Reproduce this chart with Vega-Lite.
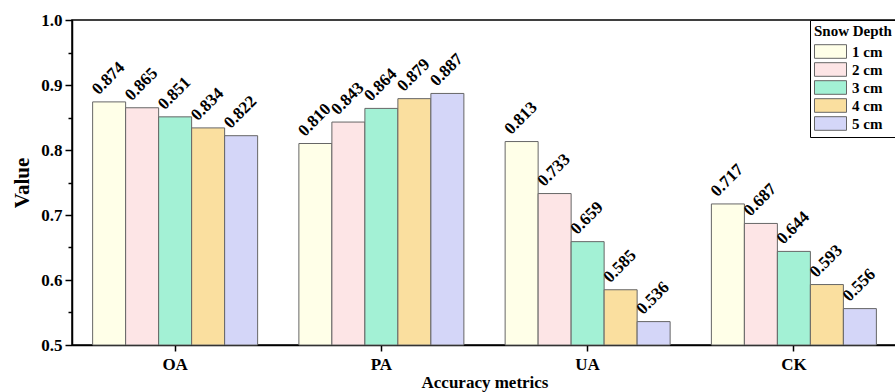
{
  "$schema": "https://vega.github.io/schema/vega-lite/v6.json",
  "autosize": "none",
  "width": 825,
  "height": 325,
  "padding": {"left": 72, "top": 20, "right": 0, "bottom": 47},
  "background": "white",
  "config": {
    "font": "Liberation Serif",
    "view": {"stroke": "#000", "strokeWidth": 1.5},
    "axis": {"grid": false, "domainColor": "#000", "domainWidth": 1.5, "tickColor": "#000", "tickWidth": 1.5, "labelColor": "#000", "titleColor": "#000", "labelFontWeight": "bold", "titleFontWeight": "bold", "labelFont": "Liberation Serif", "titleFont": "Liberation Serif"}
  },
  "data": {"values": [
    {"metric": "OA", "depth": "1 cm", "value": 0.874},
    {"metric": "OA", "depth": "2 cm", "value": 0.865},
    {"metric": "OA", "depth": "3 cm", "value": 0.851},
    {"metric": "OA", "depth": "4 cm", "value": 0.834},
    {"metric": "OA", "depth": "5 cm", "value": 0.822},
    {"metric": "PA", "depth": "1 cm", "value": 0.810},
    {"metric": "PA", "depth": "2 cm", "value": 0.843},
    {"metric": "PA", "depth": "3 cm", "value": 0.864},
    {"metric": "PA", "depth": "4 cm", "value": 0.879},
    {"metric": "PA", "depth": "5 cm", "value": 0.887},
    {"metric": "UA", "depth": "1 cm", "value": 0.813},
    {"metric": "UA", "depth": "2 cm", "value": 0.733},
    {"metric": "UA", "depth": "3 cm", "value": 0.659},
    {"metric": "UA", "depth": "4 cm", "value": 0.585},
    {"metric": "UA", "depth": "5 cm", "value": 0.536},
    {"metric": "CK", "depth": "1 cm", "value": 0.717},
    {"metric": "CK", "depth": "2 cm", "value": 0.687},
    {"metric": "CK", "depth": "3 cm", "value": 0.644},
    {"metric": "CK", "depth": "4 cm", "value": 0.593},
    {"metric": "CK", "depth": "5 cm", "value": 0.556}
  ]},
  "encoding": {
    "x": {"field": "metric", "type": "nominal", "sort": ["OA", "PA", "UA", "CK"],
      "scale": {"paddingInner": 0.2, "paddingOuter": 0.1},
      "axis": {"title": "Accuracy metrics", "labelAngle": 0, "labelFontSize": 17, "titleFontSize": 17, "tickSize": 6, "labelPadding": 5, "titlePadding": 2}},
    "xOffset": {"field": "depth", "type": "nominal", "scale": {"paddingInner": 0, "paddingOuter": 0}},
    "y": {"field": "value", "type": "quantitative",
      "scale": {"domain": [0.5, 1.0], "zero": false, "nice": false},
      "axis": {"title": "Value", "titleFontSize": 21, "labelFontSize": 17, "titlePadding": 8,
        "values": [0.5, 0.55, 0.6, 0.65, 0.7, 0.75, 0.8, 0.85, 0.9, 0.95, 1.0],
        "labelExpr": "round(datum.value*100) % 10 == 0 ? format(datum.value, '.1f') : ''",
        "tickSize": {"condition": {"test": "round(datum.value*100) % 10 == 0", "value": 7}, "value": 4},
        "labelPadding": 3}}
  },
  "layer": [
    {
      "mark": {"type": "bar", "stroke": "#666", "strokeWidth": 1},
      "encoding": {
        "y2": {"datum": 0.5},
        "color": {"field": "depth", "type": "nominal",
          "scale": {"domain": ["1 cm", "2 cm", "3 cm", "4 cm", "5 cm"], "range": ["#FFFFE8", "#FDE5E6", "#A3F1D5", "#FADF9F", "#D4D6F8"]},
          "legend": {"title": "Snow Depth", "orient": "none", "legendX": 738, "legendY": 0,
            "titleFont": "Liberation Serif", "titleFontWeight": "bold", "titleFontSize": 15, "titleColor": "#000", "titlePadding": 4,
            "labelFont": "Liberation Serif", "labelFontWeight": "bold", "labelFontSize": 15, "labelColor": "#000",
            "symbolType": "M-1,-0.85H3V0.85H-1Z", "symbolSize": 256, "symbolStrokeColor": "#666", "symbolStrokeWidth": 1,
            "symbolOpacity": 1,
            "strokeColor": "#000", "padding": 4, "labelOffset": 21, "rowPadding": -1, "fillColor": "white"}}
      }
    },
    {
      "mark": {"type": "text", "angle": 315, "align": "left", "baseline": "alphabetic", "dx": -3, "dy": -12, "fontSize": 17, "fontWeight": "bold", "font": "Liberation Serif", "color": "#000"},
      "encoding": {
        "text": {"field": "value", "type": "quantitative", "format": ".3f"}
      }
    }
  ]
}
